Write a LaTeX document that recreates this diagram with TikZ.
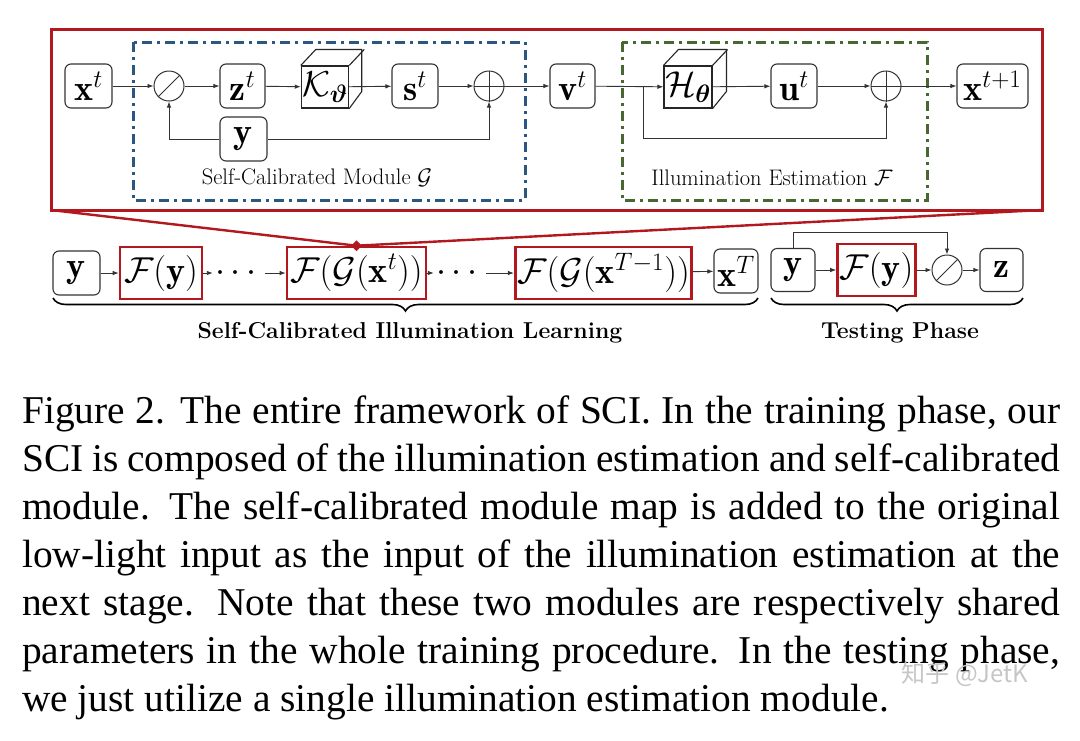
\RequirePackage{fix-cm}
\documentclass[tikz,border=0pt]{standalone}
\usepackage{amsmath}
\usepackage{fontspec}
\newfontfamily\capfont{Liberation Serif}
\newfontfamily\cjk{Noto Sans CJK SC}
\usetikzlibrary{arrows.meta,shapes.geometric,decorations.pathreplacing}
\definecolor{sciRed}{RGB}{178,24,30}
\definecolor{sciBlue}{RGB}{43,88,128}
\definecolor{sciGreen}{RGB}{72,104,50}
\newcommand\msz{\fontsize{36}{42}\selectfont}
\newcommand\lsz{\fontsize{22.5}{26}\selectfont}
\newcommand\bsz{\fontsize{23}{28}\selectfont\bfseries}
\newcommand\csz{\capfont\fontsize{39.4}{47.8}\selectfont}
\tikzset{
  blk/.style={draw=black!80, rounded corners=6pt, line width=1.1pt, minimum height=44pt, inner sep=1pt, font=\msz},
  cubefront/.style={draw=black!85, line width=1.1pt, minimum height=42pt, inner sep=1pt, font=\msz},
  cubeline/.style={draw=black!85, line width=1.1pt},
  redbox/.style={draw=sciRed, line width=2.6pt, minimum height=52pt, inner sep=2pt, font=\msz},
  arr/.style={-{Latex[length=6pt,width=4.5pt]}, line width=0.9pt, draw=black!80},
  op/.style={circle, draw=black!80, line width=1pt, minimum size=30pt, inner sep=0pt},
  opline/.style={line width=1pt, draw=black!80},
  dd/.style={line width=3pt, dash pattern=on 10pt off 5pt on 3pt off 5pt},
  redline/.style={draw=sciRed, line width=2.4pt},
  brc/.style={decorate, decoration={brace, mirror, amplitude=13pt}, line width=1.6pt},
  capline/.style={anchor=base west, inner sep=0pt, font=\csz},
}
\begin{document}
\begin{tikzpicture}[x=1pt,y=-1pt]
\useasboundingbox (0,0) rectangle (1080,740);
\fill[white] (0,0) rectangle (1080,740);

% ---------- upper detail ----------
\draw[sciRed, line width=3pt] (51,29) rectangle (1042,210);
\coordinate (rbl) at (51,210);
\coordinate (rbr) at (1042,210);
\draw[dd, sciBlue] (133,42) rectangle (525,200);
\draw[dd, sciGreen] (622,42) rectangle (927,200);

\node[blk, minimum width=47pt] (xt) at (88.5,86) {$\mathbf{x}^t$};
\node[op] (div1) at (169,86) {};
\draw[opline] (div1.south west) -- (div1.north east);
\node[blk, minimum width=45pt] (zt) at (242.5,86) {$\mathbf{z}^t$};
\node[cubefront, minimum width=46pt] (K) at (325,87) {$\mathcal{K}_{\boldsymbol{\vartheta}}$};
\draw[cubeline] (K.north west) -- ++(15,-16) -- ++(46,0) -- ++(0,42) -- (K.south east);
\draw[cubeline] (K.north east) -- ++(15,-16);
\node[blk, minimum width=46pt] (st) at (415,86) {$\mathbf{s}^t$};
\node[op] (plus1) at (489,86) {};
\draw[opline] (plus1.north) -- (plus1.south) (plus1.west) -- (plus1.east);
\node[blk, minimum width=47pt] (ybox) at (243.5,139) {$\mathbf{y}$};
\node[font=\lsz] (lblG) at (317,178) {Self-Calibrated Module $\mathcal{G}$};

\node[blk, minimum width=45pt] (vt) at (572.5,86) {$\mathbf{v}^t$};
\node[cubefront, minimum width=48pt] (H) at (688,87) {$\mathcal{H}_{\boldsymbol{\theta}}$};
\draw[cubeline] (H.north west) -- ++(15,-16) -- ++(48,0) -- ++(0,42) -- (H.south east);
\draw[cubeline] (H.north east) -- ++(15,-16);
\node[blk, minimum width=46pt] (ut) at (794,86) {$\mathbf{u}^t$};
\node[op] (plus2) at (886,86) {};
\draw[opline] (plus2.north) -- (plus2.south) (plus2.west) -- (plus2.east);
\node[blk, minimum width=71pt] (xt1) at (992.5,86) {$\mathbf{x}^{t+1}$};
\node[font=\lsz] (lblF) at (772,178) {Illumination Estimation $\mathcal{F}$};

\draw[arr] (xt) -- (div1);
\draw[arr] (div1) -- (zt);
\draw[arr] (zt) -- (K);
\draw[arr] (K) -- (st);
\draw[arr] (st) -- (plus1);
\draw[arr] (ybox.west) -| (div1.south);
\draw[arr] (ybox.east) -| (plus1.south);
\draw[arr] (plus1) -- (vt);
\draw[arr] (vt) -- (H);
\coordinate (br) at (643,86);
\coordinate (brlow) at (643,138);
\draw[arr] (br) -- (brlow) -| (plus2.south);
\draw[arr] (H) -- (ut);
\draw[arr] (ut) -- (plus2);
\draw[arr] (plus2) -- (xt1);

% ---------- training chain ----------
\node[blk, minimum width=47pt] (by) at (76.5,273) {$\mathbf{y}$};
\node[redbox, minimum width=82pt] (Fy) at (161,273) {$\mathcal{F}(\mathbf{y})$};
\node[font=\msz, inner sep=2pt] (dots1) at (239,273) {$\cdots$};
\node[redbox, minimum width=139pt] (FGx) at (356.5,273) {$\mathcal{F}(\mathcal{G}(\mathbf{x}^t))$};
\node[font=\msz, inner sep=2pt] (dots2) at (460,273) {$\cdots$};
\node[redbox, minimum width=173pt] (FGxT) at (603.5,273) {$\mathcal{F}(\mathcal{G}(\mathbf{x}^{T-1}))$};
\node[blk, minimum width=44pt] (xT) at (736,271) {$\mathbf{x}^T$};

\draw[arr] (by) -- (Fy);
\draw[arr] (Fy) -- (dots1);
\draw[arr] (dots1) -- (FGx);
\draw[arr] (FGx) -- (dots2);
\draw[arr] (dots2) -- (FGxT);
\draw[arr] (FGxT) -- (xT);

\draw[redline] (rbl) -- (FGx.north);
\draw[redline] (rbr) -- (FGx.north);
\node[diamond, fill=sciRed, inner sep=0pt, minimum size=11pt] (dia) at (FGx.north) {};

% ---------- testing ----------
\node[blk, minimum width=44pt, minimum height=43pt] (ty) at (793,270) {$\mathbf{y}$};
\node[redbox, minimum width=77pt] (tFy) at (876.5,270) {$\mathcal{F}(\mathbf{y})$};
\node[op] (div2) at (947,270) {};
\draw[opline] (div2.south west) -- (div2.north east);
\node[blk, minimum width=43pt, minimum height=43pt] (tz) at (1001.5,270) {$\mathbf{z}$};
\coordinate (tyup) at (793,232);
\draw[arr] (ty) -- (tFy);
\draw[arr] (tFy) -- (div2);
\draw[arr] (div2) -- (tz);
\draw[arr] (ty.north) -- (tyup) -| (div2.north);

% ---------- braces ----------
\coordinate (b1l) at (53,298);
\coordinate (b1r) at (758,298);
\coordinate (b2l) at (771,298);
\coordinate (b2r) at (1023,298);
\draw[brc] (b1l) -- (b1r);
\draw[brc] (b2l) -- (b2r);
\node[font=\bsz] (lblL) at (410,333) {Self-Calibrated Illumination Learning};
\node[font=\bsz] (lblT) at (900,333) {Testing Phase};

% ---------- caption ----------
\node[capline] (c1) at (22,423) {\makebox[1038pt][s]{Figure 2. The entire framework of SCI. In the training phase, our}};
\node[capline] (c2) at (22,471) {\makebox[1038pt][s]{SCI is composed of the illumination estimation and self-calibrated}};
\node[capline] (c3) at (22,519) {\makebox[1038pt][s]{module. The self-calibrated module map is added to the original}};
\node[capline] (c4) at (22,567) {\makebox[1038pt][s]{low-light input as the input of the illumination estimation at the}};
\node[capline] (c5) at (22,615) {\makebox[1038pt][s]{next stage. Note that these two modules are respectively shared}};
\node[capline] (c6) at (22,663) {\makebox[1038pt][s]{parameters in the whole training procedure. In the testing phase,}};
\node[capline] (c7) at (22,711) {we just utilize a single illumination estimation module.};

\node[font=\cjk\fontsize{24}{24}\selectfont, text=gray!45] (wm) at (965,674) {知乎 @JetK};
\end{tikzpicture}
\end{document}
